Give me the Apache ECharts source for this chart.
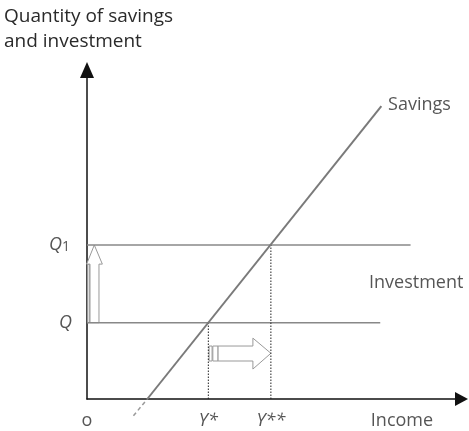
<!DOCTYPE html>
<html>
<head>
<meta charset="utf-8">
<script src="https://cdn.jsdelivr.net/npm/echarts@6/dist/echarts.min.js"></script>
<style>
  html, body { margin: 0; padding: 0; background: #fff; }
  #chart { width: 469px; height: 431px; }
</style>
</head>
<body>
<div id="chart"></div>
<script>
// axis ranges (data units)
const incomeRange = [0, 100];
const quantityRange = [0, 100];

// investment levels
const investQ = 23.2;
const investQ1 = 46.8;
const investQEnd = 78.3;
const investQ1End = 86.4;

// equilibrium incomes
const yStar = 32.4;
const yStarStar = 49.1;

// savings line (solid part and dashed extension below the axis)
const savingsLine = [[16.1, 0], [78.6, 89]];
const savingsDash = [[12.4, -5.1], [16.1, 0]];

// hollow arrows, outlines in data units
const upArrow = [[0.8, 23.2], [3.2, 23.2], [3.2, 41], [4.1, 41], [1.95, 46.8], [-0.1, 41], [0.8, 41]];
const upBar = [[0.15, 23.2], [0.6, 23.2], [0.6, 41], [0.15, 41]];
const rightArrow = [[35, 11.55], [44.3, 11.55], [44.3, 9.1], [49.1, 13.9], [44.3, 18.5], [44.3, 16.1], [35, 16.1]];
const rightBar1 = [[32.6, 11.55], [33.4, 11.55], [33.4, 16.1], [32.6, 16.1]];
const rightBar2 = [[33.6, 11.55], [35, 11.55], [35, 16.1], [33.6, 16.1]];
const arrowShapes = [upBar, upArrow, rightBar1, rightBar2, rightArrow];

// labels
const xMarkLabels = ['o', 'Y*', 'Y**'];
const xMarkValues = [0, yStar, yStarStar];
const yTitle = 'Quantity of savings\nand investment';
const xTitle = 'Income';

const textColor = '#2a2a2a';
const font = '"Open Sans", "DejaVu Sans", sans-serif';

const chart = echarts.init(document.getElementById('chart'));

function lineSeries(data, style, extra) {
  return Object.assign({
    type: 'line',
    data: data,
    symbol: 'none',
    silent: true,
    animation: false,
    lineStyle: style
  }, extra || {});
}

function labelPoint(x, y, text, label) {
  return {
    value: [x, y],
    label: Object.assign({
      show: true,
      formatter: text,
      color: textColor,
      fontFamily: font,
      fontSize: 18,
      lineHeight: 22
    }, label)
  };
}

const labelData = [];
xMarkLabels.forEach(function (t, i) {
  labelData.push(labelPoint(xMarkValues[i], 0, t, {
    position: 'bottom', distance: 11, fontStyle: i === 0 ? 'normal' : 'italic'
  }));
});
labelData.push(labelPoint(84.1, 0, xTitle, { position: 'bottom', distance: 11 }));
labelData.push(labelPoint(0, investQ, 'Q', { position: 'left', distance: 15, fontStyle: 'italic' }));
labelData.push(labelPoint(0, investQ1, '{q|Q}{n|1}', {
  position: 'left', distance: 17,
  rich: {
    q: { fontStyle: 'italic', fontSize: 18, color: textColor, fontFamily: font },
    n: { fontSize: 14, color: textColor, fontFamily: font, padding: [3, 0, 0, 0] }
  }
}));
labelData.push(labelPoint(75.3, 35.3, 'Investment', { position: 'right', distance: 0 }));
labelData.push(labelPoint(80.4, 89.4, 'Savings', { position: 'right', distance: 0 }));

const axisLineStyle = { color: '#111', width: 1.5 };

const option = {
  animation: false,
  title: {
    text: yTitle,
    left: 4,
    top: 4,
    padding: 0,
    textStyle: {
      fontFamily: font,
      fontSize: 19,
      fontWeight: 'normal',
      lineHeight: 25,
      color: textColor
    }
  },
  grid: { left: 87, right: 7.5, top: 70, bottom: 32 },
  xAxis: {
    type: 'value',
    min: incomeRange[0],
    max: incomeRange[1],
    splitLine: { show: false },
    axisTick: { show: false },
    axisLabel: { show: false },
    axisLine: { show: true, symbol: ['none', 'triangle'], symbolSize: [14, 13], lineStyle: axisLineStyle }
  },
  yAxis: {
    type: 'value',
    min: quantityRange[0],
    max: quantityRange[1],
    splitLine: { show: false },
    axisTick: { show: false },
    axisLabel: { show: false },
    axisLine: { show: true, symbol: ['none', 'triangle'], symbolSize: [14, 16], lineStyle: axisLineStyle }
  },
  series: [
    lineSeries([[0, investQ], [investQEnd, investQ]], { color: '#888', width: 1.5 }),
    lineSeries([[0, investQ1], [investQ1End, investQ1]], { color: '#888', width: 1.5 }),
    lineSeries([[yStar, 0], [yStar, investQ]], { color: '#222', width: 1, type: [1.5, 1.5] }),
    lineSeries([[yStarStar, 0], [yStarStar, investQ1]], { color: '#222', width: 1, type: [1.5, 1.5] }),
    lineSeries(savingsLine, { color: '#7a7a7a', width: 2 }),
    lineSeries(savingsDash, { color: '#999', width: 1.5, type: [4, 3] }, { clip: false }),
    {
      type: 'custom',
      silent: true,
      animation: false,
      clip: false,
      data: arrowShapes.map(function (s, i) { return [i]; }),
      renderItem: function (params, api) {
        const pts = arrowShapes[params.dataIndex].map(function (p) { return api.coord(p); });
        return {
          type: 'polygon',
          shape: { points: pts },
          style: { fill: '#fff', stroke: '#999', lineWidth: 1 }
        };
      }
    },
    {
      type: 'scatter',
      silent: true,
      animation: false,
      symbolSize: 0,
      data: labelData
    }
  ]
};

chart.setOption(option);
window.addEventListener('resize', function () { chart.resize(); });
</script>
</body>
</html>
